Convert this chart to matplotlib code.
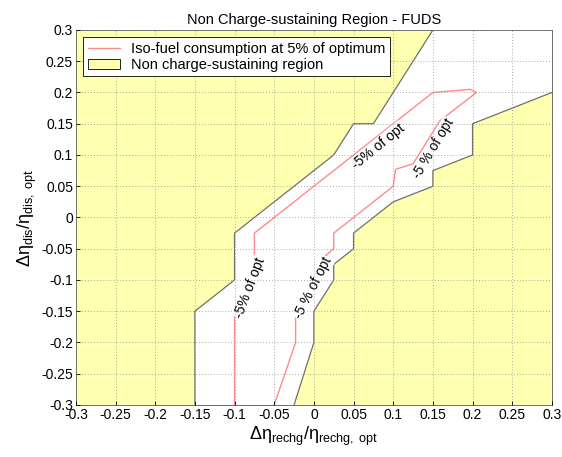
import matplotlib
matplotlib.use("Agg")
import matplotlib.pyplot as plt
from matplotlib.patches import Polygon

plt.rcParams['font.family'] = ['Liberation Sans', 'DejaVu Sans']
plt.rcParams['mathtext.fontset'] = 'custom'
plt.rcParams['mathtext.rm'] = 'Liberation Sans'
plt.rcParams['mathtext.it'] = 'Liberation Sans'

# boundary of the upper-left non charge-sustaining region
upper_x = [-0.15, -0.15, -0.1, -0.1, 0.025, 0.05, 0.075, 0.15]
upper_y = [-0.3, -0.15, -0.1, -0.025, 0.1, 0.15, 0.15, 0.3]

# boundary of the lower-right non charge-sustaining region
lower_x = [-0.025, 0.0, 0.0, 0.025, 0.025, 0.05, 0.05, 0.1, 0.15, 0.15, 0.2, 0.2, 0.3]
lower_y = [-0.3, -0.2, -0.15, -0.1, -0.075, -0.05, -0.025, 0.025, 0.05, 0.075, 0.1, 0.15, 0.2]

# iso-fuel contour at 5% of optimum
iso_x = [-0.1, -0.1, -0.075, -0.075, 0.15, 0.197, 0.205, 0.159, 0.125, 0.103, 0.1,
         0.025, 0.025, 0.012, -0.023, -0.023, -0.05]
iso_y = [-0.3, -0.15, -0.065, -0.025, 0.2, 0.205, 0.2, 0.155, 0.086, 0.077, 0.05,
         -0.025, -0.05, -0.064, -0.15, -0.2, -0.3]

# contour labels: text, x, y, rotation
label_text = ['-5% of opt', '-5 % of opt', '-5% of opt', '-5 % of opt']
label_x = [-0.081, -0.001, 0.081, 0.15]
label_y = [-0.112, -0.113, 0.114, 0.11]
label_rot = [69, 63, 39, 59]

yellow = '#ffffb0'
edge = '#707070'
red = '#ff8a90'

fig = plt.figure(figsize=(5.62, 4.57), dpi=100)
ax = fig.add_axes([0.135, 0.1138, 0.847, 0.8206])

up_pts = list(zip(upper_x, upper_y)) + [(-0.3, 0.3), (-0.3, -0.3)]
lo_pts = list(zip(lower_x, lower_y)) + [(0.3, -0.3)]
up_poly = Polygon(up_pts, closed=True, facecolor=yellow, edgecolor='none', zorder=1)
lo_poly = Polygon(lo_pts, closed=True, facecolor=yellow, edgecolor='none', zorder=1)
ax.add_patch(up_poly)
ax.add_patch(lo_poly)
ax.plot(upper_x, upper_y, color=edge, lw=0.9, zorder=1.2)
ax.plot(lower_x, lower_y, color=edge, lw=0.9, zorder=1.2)

iso_line, = ax.plot(iso_x, iso_y, color=red, lw=1.0, zorder=2)

for t, x, y, r in zip(label_text, label_x, label_y, label_rot):
    ax.text(x, y, t, rotation=r, ha='center', va='center', fontsize=10, zorder=2.2,
            rotation_mode='anchor',
            bbox=dict(facecolor='white', edgecolor='none', pad=0.5))

ax.set_xlim(-0.3, 0.3)
ax.set_ylim(-0.3, 0.3)
ticks = [-0.3, -0.25, -0.2, -0.15, -0.1, -0.05, 0, 0.05, 0.1, 0.15, 0.2, 0.25, 0.3]
tick_labels = ['-0.3', '-0.25', '-0.2', '-0.15', '-0.1', '-0.05', '0', '0.05', '0.1',
               '0.15', '0.2', '0.25', '0.3']
ax.set_xticks(ticks)
ax.set_xticklabels(tick_labels)
ax.set_yticks(ticks)
ax.set_yticklabels(tick_labels)
ax.tick_params(labelsize=10, direction='in', length=3, pad=2, width=0.6)
ax.set_axisbelow(False)
ax.grid(True, linestyle=(0, (1, 2.5)), color='#909090', lw=0.6)
for s in ax.spines.values():
    s.set_linewidth(0.6)
    s.set_color('#555555')

ax.set_title('Non Charge-sustaining Region - FUDS', fontsize=10.5, pad=4)
ax.set_xlabel(r'$\Delta\eta_{rechg}/\eta_{rechg,\ opt}$', fontsize=13, labelpad=2)
ax.set_ylabel(r'$\Delta\eta_{dis}/\eta_{dis,\ opt}$', fontsize=13, labelpad=2)

leg_patch = Polygon([(0, 0), (1, 0), (1, 1)], facecolor=yellow, edgecolor='black', lw=0.6)
leg = ax.legend([iso_line, leg_patch],
                ['Iso-fuel consumption at 5% of optimum', 'Non charge-sustaining region'],
                loc='upper left', fontsize=10.5, fancybox=False, framealpha=1,
                edgecolor='black', borderaxespad=0.5, handlelength=2.2,
                labelspacing=0.15, borderpad=0.3)
leg.get_frame().set_linewidth(0.6)

fig.savefig('out.png', dpi=100)
